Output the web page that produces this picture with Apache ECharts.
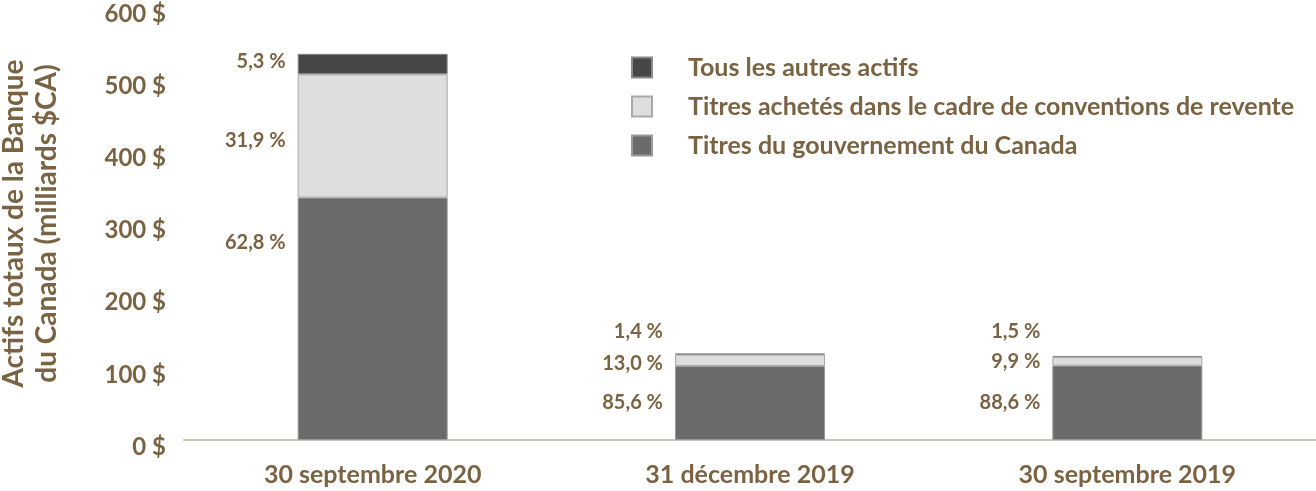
<!DOCTYPE html>
<html>
<head>
<meta charset="utf-8">
<script src="https://cdn.jsdelivr.net/npm/echarts@6/dist/echarts.min.js"></script>
<style>
html,body{margin:0;padding:0;background:#fff;}
#chart{width:1316px;height:491px;}
</style>
</head>
<body>
<div id="chart"></div>
<script>
// ---- Data (billions $CA) ----
const categories = ['30 septembre 2020', '31 décembre 2019', '30 septembre 2019'];
const seriesNames = ['Tous les autres actifs', 'Titres achetés dans le cadre de conventions de revente', 'Titres du gouvernement du Canada'];
const govCanada = [336, 102.7, 103.2];
const resaleAgreements = [170.7, 15.6, 11.5];
const otherAssets = [28.4, 1.7, 1.8];
const govPctLabels = ['62,8 %', '85,6 %', '88,6 %'];
const resalePctLabels = ['31,9 %', '13,0 %', '9,9 %'];
const otherPctLabels = ['5,3 %', '1,4 %', '1,5 %'];
const yTicks = [0, 100, 200, 300, 400, 500, 600];

// ---- Style ----
const brown = '#7a6342';
const FONT = 'Lato';
const govOffsets = [[0, -76], [0, 0], [0, 0]];
const resaleOffsets = [[0, 5], [0, 3], [0, 0]];
const otherOffsets = [[0, -3], [0, -22], [0, -25]];

function mkData(vals, labels, offsets) {
  return vals.map((v, i) => ({
    value: v,
    label: { formatter: labels[i], offset: offsets[i] }
  }));
}

const labelStyle = {
  show: true, position: 'left', distance: 12,
  color: brown, fontFamily: FONT, fontSize: 20, fontWeight: 'bold'
};

const chart = echarts.init(document.getElementById('chart'), null, { renderer: 'canvas' });
chart.setOption({
  animation: false,
  backgroundColor: '#fff',
  grid: { left: 184, right: 0, top: 7, bottom: 51, containLabel: false, outerBoundsMode: 'none' },
  legend: {
    orient: 'vertical', left: 626, top: 50,
    icon: 'rect',
    itemWidth: 20, itemHeight: 20, itemGap: 14,
    data: seriesNames,
    textStyle: { color: brown, fontFamily: FONT, fontSize: 25, fontWeight: 'bold', padding: [0, 0, 0, 31] }
  },
  xAxis: {
    type: 'category', data: categories,
    axisLine: { lineStyle: { color: '#c6c6b6', width: 2 } },
    axisTick: { show: false },
    axisLabel: { color: brown, fontFamily: FONT, fontSize: 25, fontWeight: 'bold', margin: 22 }
  },
  yAxis: {
    type: 'value', min: yTicks[0], max: yTicks[yTicks.length - 1], interval: 100,
    axisLine: { show: false }, axisTick: { show: false }, splitLine: { show: false },
    axisLabel: {
      color: brown, fontFamily: FONT, fontSize: 24, fontWeight: 'bold', margin: 18,
      verticalAlign: 'top', lineHeight: 14,
      formatter: v => v + ' $'
    },
    name: 'Actifs totaux de la Banque\ndu Canada (milliards $CA)',
    nameLocation: 'middle', nameGap: 121,
    nameTextStyle: { color: brown, fontFamily: FONT, fontSize: 28, fontWeight: 'bold', lineHeight: 33 }
  },
  series: [
    {
      name: seriesNames[2], type: 'bar', stack: 'total', barWidth: 150,
      itemStyle: { color: '#6b6b6b', borderColor: '#9a9a9a', borderWidth: 1 },
      label: labelStyle,
      data: mkData(govCanada, govPctLabels, govOffsets)
    },
    {
      name: seriesNames[1], type: 'bar', stack: 'total', barWidth: 150,
      itemStyle: { color: '#dedede', borderColor: '#a8a8a8', borderWidth: 1 },
      label: labelStyle,
      data: mkData(resaleAgreements, resalePctLabels, resaleOffsets)
    },
    {
      name: seriesNames[0], type: 'bar', stack: 'total', barWidth: 150,
      itemStyle: { color: '#474747', borderColor: '#8a8a8a', borderWidth: 1 },
      label: labelStyle,
      data: mkData(otherAssets, otherPctLabels, otherOffsets)
    }
  ]
});
</script>
</body>
</html>
